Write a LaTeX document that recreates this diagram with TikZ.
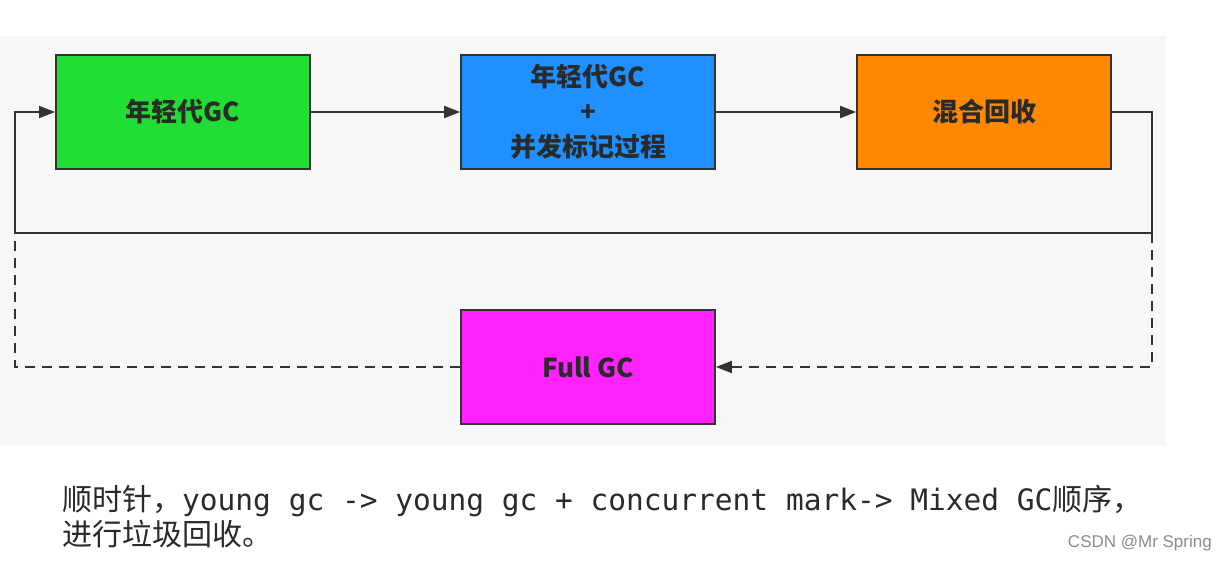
\documentclass[tikz,border=0pt]{standalone}
\usepackage{fontspec}
\setmainfont{Liberation Sans}
\newfontfamily\cjk{Noto Sans CJK SC}
\newfontfamily\mono{DejaVu Sans Mono}
\usetikzlibrary{arrows.meta}
\definecolor{bg}{HTML}{F6F7F6}
\definecolor{lc}{HTML}{333333}
\definecolor{txt}{HTML}{2A2A2A}
\definecolor{cgreen}{RGB}{34,221,51}
\definecolor{cblue}{RGB}{30,144,255}
\definecolor{corange}{RGB}{255,136,0}
\definecolor{cmag}{RGB}{255,34,255}
\begin{document}
\begin{tikzpicture}[x=1pt,y=-1pt,
  box/.style={draw=lc,line width=1.8pt,minimum width=254pt,minimum height=114pt,inner sep=0pt,
    font=\cjk\bfseries\fontsize{26}{35}\selectfont,align=center,text=txt},
  conn/.style={draw=lc,line width=2pt},
  arr/.style={-{Triangle[length=16pt,width=12pt]}},
  dline/.style={conn,dash pattern=on 10pt off 7pt}]
\useasboundingbox (0,0) rectangle (1228,560);
\fill[white] (0,0) rectangle (1228,560);
\fill[bg] (0,36) rectangle (1166,446);
\node[box,fill=cgreen] (g) at (183,112) {年轻代GC};
\node[box,fill=cblue] (b) at (588,112) {年轻代GC\\+\\并发标记过程};
\node[box,fill=corange] (o) at (984,112) {混合回收};
\node[box,fill=cmag] (f) at (588,367) {Full GC};
\coordinate (r1) at (1152,112);
\coordinate (r2) at (1152,233);
\coordinate (r3) at (1152,367);
\coordinate (l1) at (15,112);
\coordinate (l2) at (15,233);
\coordinate (l3) at (15,367);
\draw[conn,arr] (g) -- (b);
\draw[conn,arr] (b) -- (o);
\draw[conn,arr] (o.east) -- (r1) -- (r2) -- (l2) -- (l1) -- (g.west);
\draw[dline,arr] (r2) -- (r3) -- (f.east);
\draw[dline] (f.west) -- (l3) -- (l2);
\node[anchor=base west,inner sep=0pt,text=txt] (t1) at (62,510)
  {\cjk\fontsize{30}{35}\selectfont 顺时针，\mono\fontsize{29.5}{35}\selectfont young gc -> young gc + concurrent mark-> Mixed GC\cjk\fontsize{30}{35}\selectfont 顺序，};
\node[anchor=base west,inner sep=0pt,text=txt] (t2) at (62,545)
  {\cjk\fontsize{30}{35}\selectfont 进行垃圾回收。};
\node[anchor=base east,inner sep=0pt,text=black!45] (w) at (1212,547)
  {\fontsize{17}{20}\selectfont CSDN @Mr Spring};
\end{tikzpicture}
\end{document}
